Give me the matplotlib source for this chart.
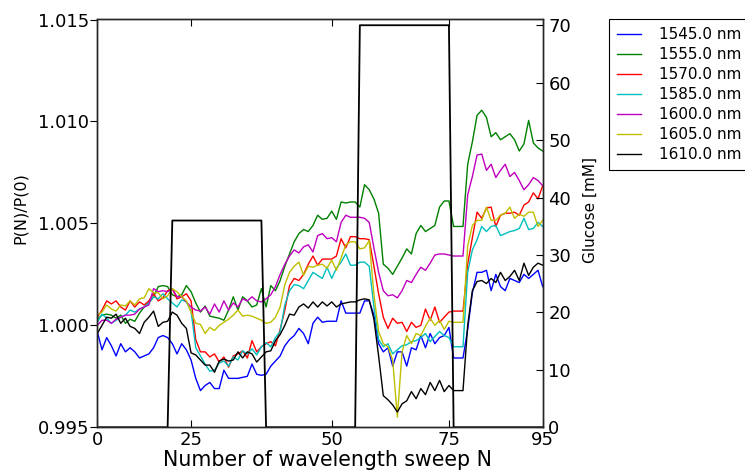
import numpy as np
import matplotlib
matplotlib.use("Agg")
import matplotlib.pyplot as plt

plt.rcParams['font.family'] = ['DejaVu Sans']

# Sweep index and glucose concentration [mM]
sweep = np.arange(96)
glucose = ([0] * 16) + ([36] * 20) + ([0] * 20) + ([70] * 20) + ([0] * 20)

# Relative power change (P(N)/P(0) - 1) in units of 1e-3, one list per wavelength
d1545 = [-0.3, -1.2, -0.6, -1.0, -1.5, -0.9, -1.3, -1.1, -1.3, -1.6,
         -1.5, -1.4, -1.1, -0.6, -0.5, -0.6, -0.9, -1.4, -0.9, -1.2,
         -1.7, -2.6, -3.2, -2.95, -2.8, -3.1, -3.1, -2.2, -2.6, -2.6,
         -2.6, -2.55, -2.5, -1.9, -2.4, -2.45, -2.4, -2.0, -1.75, -1.5,
         -1.0, -0.7, -0.5, -0.15, -0.4, -0.9, 0.1, 0.4, 0.15, 0.2,
         0.2, 0.2, 1.2, 0.6, 0.6, 0.6, 0.6, 1.2, 1.2, 0.5,
         -0.9, -1.3, -1.1, -2.0, -1.3, -1.3, -2.0, -1.1, -1.2, -0.5,
         -1.1, -0.4, -0.9, -0.6, -0.5, -0.1, -1.6, -1.6, -1.6, -0.2,
         1.6, 2.6, 2.6, 2.7, 1.7, 2.5, 1.9, 1.7, 2.3, 2.2,
         2.1, 2.5, 2.3, 2.5, 2.7, 1.9]
d1555 = [0.3, 0.5, 0.55, 0.5, 0.35, 0.5, 0.1, 0.3, 0.2, 0.6,
         0.9, 1.1, 1.4, 1.9, 1.95, 1.9, 1.5, 1.4, 1.5, 1.95,
         1.65, 1.1, 0.65, 0.95, 0.45, 0.4, 0.35, 0.25, 0.75, 1.4,
         0.75, 1.4, 1.2, 0.9, 1.0, 1.8, 0.9, 1.95, 1.7, 2.2,
         2.9, 3.5, 4.1, 4.5, 4.7, 4.6, 4.9, 5.4, 5.2, 5.25,
         5.6, 5.2, 6.05, 6.0, 6.05, 6.05, 5.8, 6.9, 6.65, 6.2,
         5.5, 3.0, 2.8, 2.5, 2.9, 3.3, 3.75, 3.5, 4.5, 4.9,
         4.6, 4.75, 4.9, 5.8, 6.1, 6.1, 4.85, 4.85, 4.85, 7.9,
         9.0, 10.3, 10.55, 10.2, 9.25, 9.45, 9.1, 9.25, 9.4, 9.1,
         8.55, 8.9, 10.05, 8.95, 8.7, 8.55]
d1570 = [0.4, 0.75, 1.2, 1.05, 1.2, 0.9, 0.75, 1.2, 0.9, 1.15,
         1.0, 1.2, 1.55, 1.2, 1.35, 1.7, 1.8, 1.3, 1.4, 1.55,
         1.2, -0.7, -1.3, -1.3, -1.55, -1.4, -1.8, -1.55, -2.05, -1.5,
         -1.4, -1.25, -1.6, -0.75, -1.3, -1.05, -0.9, -0.8, -1.0, -0.2,
         0.75, 1.95, 2.3, 2.2, 2.5, 3.0, 3.4, 2.95, 3.25, 3.25,
         3.25, 3.4, 4.25, 3.8, 4.35, 4.35, 4.25, 4.25, 4.2, 2.9,
         1.55, 0.4, -0.15, 0.35, 0.1, 0.15, -0.3, 0.15, -0.1, 0.0,
         0.8, 0.25, 0.9, 0.15, 0.4, 0.65, 0.7, 0.7, 0.7, 3.0,
         4.3, 5.55, 5.25, 5.75, 5.8, 4.85, 5.4, 5.5, 5.5, 5.55,
         5.4, 5.9, 6.05, 6.5, 6.2, 6.85]
d1585 = [0.15, 0.55, 0.35, 0.1, 0.25, 0.4, 0.5, 0.75, 0.65, 0.8,
         0.9, 1.1, 1.4, 1.3, 1.55, 1.3, 1.1, 0.9, 1.25, 1.15,
         0.7, -1.1, -1.5, -1.9, -2.25, -2.2, -1.85, -1.75, -2.0, -1.55,
         -1.7, -1.25, -1.4, -1.15, -1.45, -1.05, -0.85, -1.05, -0.6, -0.3,
         1.0, 1.7, 2.0, 1.95, 1.8, 2.2, 2.6, 2.45, 2.3, 2.85,
         2.3, 2.8, 3.1, 3.5, 2.95, 2.95, 3.1, 3.1, 2.9, 0.9,
         -0.7, -1.05, -0.9, -1.4, -1.2, -1.0, -0.95, -0.8, -0.75, -0.6,
         -0.4, -0.8, -0.55, -0.3, -0.5, -0.6, -1.05, -1.05, -1.05, 2.6,
         3.7, 4.2, 4.85, 4.6, 4.85, 4.9, 4.4, 4.5, 4.6, 4.65,
         4.75, 5.25, 4.7, 4.75, 5.05, 4.85]
d1600 = [0.0, 0.25, 0.25, 0.1, 0.3, 0.4, 0.5, 0.5, 0.55, 0.8,
         0.9, 1.0, 1.8, 1.65, 1.7, 1.65, 1.8, 1.4, 1.4, 1.15,
         0.9, 0.75, 0.7, 0.9, 0.55, 1.05, 0.65, 1.2, 0.75, 1.1,
         0.9, 1.3, 1.2, 1.4, 1.2, 1.15, 1.3, 1.5, 1.9, 2.5,
         3.0, 3.4, 3.7, 3.55, 3.85, 3.95, 3.6, 4.4, 4.5, 4.25,
         4.3, 4.1, 5.05, 5.4, 5.3, 5.3, 5.3, 5.25, 5.05, 3.8,
         2.6, 1.7, 1.45, 1.5, 1.35, 1.7, 2.2, 2.1, 2.5, 2.85,
         2.7, 3.05, 3.45, 3.5, 3.5, 3.45, 3.4, 3.4, 3.4, 6.4,
         7.3, 8.35, 8.4, 7.6, 7.9, 7.25, 7.6, 7.9, 7.3, 7.5,
         7.1, 6.65, 6.9, 7.25, 7.1, 6.85]
d1605 = [0.5, 0.65, 1.0, 0.8, 0.7, 1.0, 0.95, 1.2, 1.0, 1.3,
         1.35, 1.8, 1.6, 1.6, 1.3, 1.45, 1.8, 1.65, 1.4, 1.2,
         0.65, 0.1, 0.05, -0.4, -0.1, -0.25, 0.0, 0.15, 0.3, 0.5,
         0.75, 0.45, 0.5, 0.45, 0.35, 0.25, 0.1, 0.15, 0.4, 0.9,
         2.0, 2.6, 2.9, 3.1, 2.45, 2.9, 2.85, 2.95, 3.0, 2.8,
         3.2, 2.7, 3.3, 3.95, 4.1, 4.1, 3.75, 3.8, 4.15, 1.5,
         -0.3, -0.9, -1.05, -1.7, -4.5, -1.3, -0.5, -0.9, -0.4, -0.5,
         -0.05, 0.35, 0.0, 0.25, -0.2, 0.2, 0.15, 0.15, 0.15, 3.9,
         4.9, 5.15, 5.15, 5.8, 5.15, 5.15, 5.4, 5.5, 5.8, 5.25,
         5.45, 5.35, 5.55, 5.55, 4.85, 5.15]
d1610 = [-0.4, 0.0, 0.4, 0.35, 0.55, 0.1, 0.35, -0.05, -0.15, -0.4,
         0.15, 0.4, 0.7, -0.05, 0.15, 0.2, 0.65, 0.5, 0.1, -0.15,
         -1.35, -1.45, -1.7, -1.95, -1.95, -2.3, -1.75, -1.65, -1.75, -1.7,
         -1.3, -1.6, -1.3, -1.4, -1.8, -1.55, -1.3, -1.25, -0.75, -0.45,
         0.0, 0.55, 0.5, 0.9, 1.05, 0.85, 1.15, 0.9, 1.15, 0.95,
         1.15, 0.9, 1.05, 1.1, 1.15, 1.15, 1.25, 1.3, 1.25, 0.3,
         -1.5, -3.45, -3.65, -3.9, -4.25, -3.85, -3.7, -3.25, -3.6, -3.1,
         -3.4, -2.8, -3.2, -2.7, -3.25, -2.95, -3.2, -3.2, -3.2, 0.0,
         1.7, 2.15, 2.2, 2.05, 2.3, 2.1, 2.6, 2.2, 2.4, 2.7,
         2.2, 3.05, 2.45, 2.85, 3.05, 2.95]

labels = ['1545.0 nm', '1555.0 nm', '1570.0 nm', '1585.0 nm',
          '1600.0 nm', '1605.0 nm', '1610.0 nm']
colors = [(0, 0, 1), (0, 0.5, 0), (1, 0, 0), (0, 0.75, 0.75),
          (0.75, 0, 0.75), (0.75, 0.75, 0), (0, 0, 0)]
series = [d1545, d1555, d1570, d1585, d1600, d1605, d1610]

xtick_pos = [0, 20, 50, 75, 95]
xtick_lab = ['0', '25', '50', '75', '95']

fig = plt.figure(figsize=(7.45, 4.73), dpi=100)
ax = fig.add_axes([97.3 / 745, 1 - 427.3 / 473, (542.7 - 97.3) / 745, (427.3 - 19.5) / 473])

for d, c, lab in zip(series, colors, labels):
    ax.plot(sweep, 1.0 + np.array(d) * 1e-3, color=c, lw=1.0, label=lab)

ax.set_xlim(0, 95)
ax.set_ylim(0.995, 1.015)
ax.set_yticks([0.995, 1.000, 1.005, 1.010, 1.015])
ax.set_yticklabels(['0.995', '1.000', '1.005', '1.010', '1.015'])
ax.set_xticks(xtick_pos)
ax.set_xticklabels(xtick_lab)
ax.tick_params(axis='x', direction='in', length=5, width=0.8, top=True, labelsize=13, pad=3)
ax.tick_params(axis='y', direction='out', length=5, width=0.8, labelsize=13, pad=1)
ax.set_xlabel('Number of wavelength sweep N', fontsize=14.8)
ax.xaxis.set_label_coords(0.517, -0.055)
ax.set_ylabel('P(N)/P(0)', fontsize=11.5)
ax.yaxis.set_label_coords(-0.155, 0.537)

ax2 = ax.twinx()
ax2.plot(sweep, glucose, color='k', lw=1.3)
ax2.set_ylim(0, 71)
ax2.set_yticks(range(0, 71, 10))
ax2.tick_params(axis='y', direction='in', length=5, width=0.8, labelsize=13, pad=4)
ax2.set_ylabel('Glucose [mM]', fontsize=11)
ax2.yaxis.set_label_coords(1.09, 0.533)

for a in (ax, ax2):
    for s in a.spines.values():
        s.set_linewidth(1.0)
        s.set_color('0.15')

leg = ax.legend(loc='upper left', bbox_to_anchor=(609 / 745, 1 - 19.3 / 473),
                bbox_transform=fig.transFigure, borderaxespad=0, fontsize=11,
                frameon=True, fancybox=False, framealpha=1, edgecolor='k',
                handlelength=1.6, handletextpad=1.15, labelspacing=0.33, borderpad=0.5)
leg.get_frame().set_linewidth(0.8)

fig.savefig('out.png', dpi=100)
